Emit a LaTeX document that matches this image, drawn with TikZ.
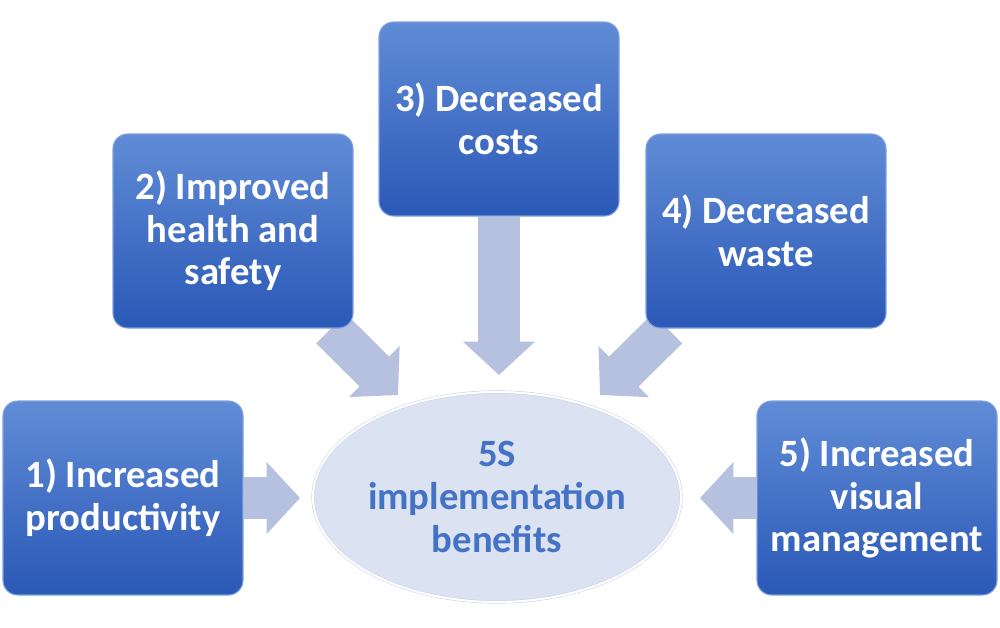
\documentclass[tikz,border=0pt]{standalone}
\usepackage{fontspec}
\setmainfont{Carlito}
\usetikzlibrary{arrows.meta,backgrounds,shapes.geometric}
\definecolor{boxtop}{RGB}{96,140,214}
\definecolor{boxbottom}{RGB}{42,88,182}
\definecolor{boxedge}{RGB}{126,162,224}
\definecolor{hubfill}{RGB}{219,226,241}
\definecolor{hubedge}{RGB}{200,209,229}
\definecolor{hubtext}{RGB}{68,114,196}
\definecolor{flowfill}{RGB}{182,193,223}
\begin{document}
\begin{tikzpicture}[x=0.75pt,y=-0.75pt]
        \tikzstyle{benefit}=[rectangle, rounded corners=11pt, minimum width=180pt, minimum height=145.5pt, inner sep=0pt, top color=boxtop, bottom color=boxbottom, draw=boxedge, line width=0.8pt, text=white, align=center, font=\fontsize{29}{32}\selectfont\bfseries]
        \tikzstyle{hub}=[ellipse, minimum width=276pt, minimum height=157.5pt, inner sep=0pt, fill=hubfill, draw=hubedge, double=white, double distance=1.6pt, text=hubtext, align=center, font=\fontsize{29}{32}\selectfont\bfseries]
        \tikzstyle{flow}=[draw=flowfill, line width=31.5pt, -{Triangle[length=25pt,width=52.5pt]}]
        \useasboundingbox (0,0) rectangle (1000,628);
        \node [benefit] (prod) at (123,498) {1) Increased\\productivity};
        \node [benefit] (safety) at (233,231) {2) Improved\\health and\\safety};
        \node [benefit] (costs) at (499,119) {3) Decreased\\costs};
        \node [benefit] (waste) at (766,231) {4) Decreased\\waste};
        \node [benefit] (visual) at (877,498) {5) Increased\\visual\\management};
        \node [hub] (hub) at (497,497) {5S\\implementation\\benefits};
        \coordinate (tipprod) at (300,498);
        \coordinate (tipsafety) at (398,395);
        \coordinate (tipcosts) at (499,375);
        \coordinate (tipwaste) at (600,395);
        \coordinate (tipvisual) at (700,498);
        \begin{scope}[on background layer]
        \draw [flow] (prod) -- (tipprod);
        \draw [flow] (safety) -- (tipsafety);
        \draw [flow] (costs) -- (tipcosts);
        \draw [flow] (waste) -- (tipwaste);
        \draw [flow] (visual) -- (tipvisual);
        \end{scope}
    \end{tikzpicture}
\end{document}
